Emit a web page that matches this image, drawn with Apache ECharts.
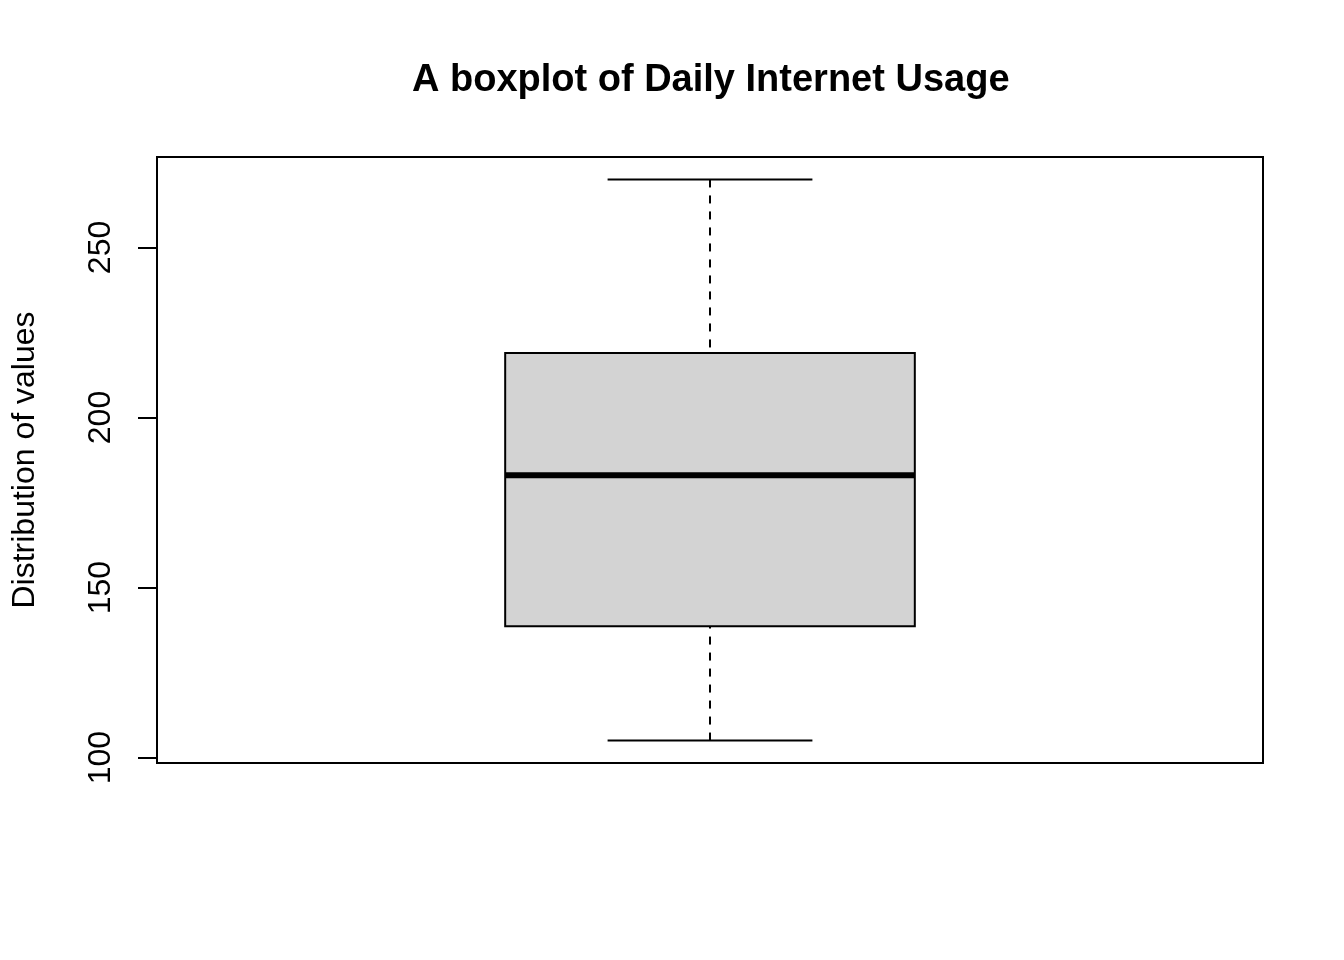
<!DOCTYPE html>
<html>
<head>
<meta charset="utf-8">
<script src="https://cdn.jsdelivr.net/npm/echarts@6/dist/echarts.min.js"></script>
<style>
html,body{margin:0;padding:0;background:#fff;}
#chart{width:1344px;height:960px;}
</style>
</head>
<body>
<div id="chart"></div>
<script>
// Data
const categories = ['Daily Internet Usage'];
const positions = [1];
const whiskerLow = [105];
const quartile1 = [138.6];
const medians = [183];
const quartile3 = [219];
const whiskerHigh = [270];
const yTickValues = [100, 150, 200, 250];
const yRange = [98.4, 276.6];
const xRange = [0.46, 1.54];

const FONT = '"Liberation Sans", Arial, Helvetica, sans-serif';

const seriesData = positions.map((p, i) => [p, whiskerLow[i], quartile1[i], medians[i], quartile3[i], whiskerHigh[i]]);

const chart = echarts.init(document.getElementById('chart'));

function renderItem(params, api) {
  const x = api.value(0);
  const lo = api.value(1), q1 = api.value(2), md = api.value(3), q3 = api.value(4), hi = api.value(5);
  const halfBox = 0.2, halfCap = 0.1;
  const pLo = api.coord([x, lo]), pQ1 = api.coord([x, q1]), pQ3 = api.coord([x, q3]), pHi = api.coord([x, hi]);
  const bl = api.coord([x - halfBox, q3]), br = api.coord([x + halfBox, q1]);
  const cl = api.coord([x - halfCap, lo])[0], cr = api.coord([x + halfCap, lo])[0];
  const pMd = api.coord([x, md]);
  const black = '#000';
  return {
    type: 'group',
    children: [
      { type: 'line', shape: { x1: pHi[0], y1: pHi[1], x2: pQ3[0], y2: pQ3[1] },
        style: { stroke: black, lineWidth: 2, lineDash: [8, 8] } },
      { type: 'line', shape: { x1: pLo[0], y1: pLo[1], x2: pQ1[0], y2: pQ1[1] },
        style: { stroke: black, lineWidth: 2, lineDash: [8, 8] } },
      { type: 'line', shape: { x1: cl, y1: pHi[1], x2: cr, y2: pHi[1] },
        style: { stroke: black, lineWidth: 2 } },
      { type: 'line', shape: { x1: cl, y1: pLo[1], x2: cr, y2: pLo[1] },
        style: { stroke: black, lineWidth: 2 } },
      { type: 'rect', shape: { x: bl[0], y: bl[1], width: br[0] - bl[0], height: br[1] - bl[1] },
        style: { fill: '#d3d3d3', stroke: black, lineWidth: 2 } },
      { type: 'line', shape: { x1: bl[0], y1: pMd[1], x2: br[0], y2: pMd[1] },
        style: { stroke: black, lineWidth: 6 } }
    ]
  };
}

chart.setOption({
  animation: false,
  backgroundColor: '#fff',
  title: {
    text: 'A boxplot of Daily Internet Usage',
    left: 412,
    top: 62,
    padding: 0,
    textStyle: { fontFamily: FONT, fontSize: 38, fontWeight: 'bold', color: '#000' }
  },
  grid: {
    left: 157, top: 157, width: 1106, height: 606,
    show: true, borderColor: '#000', borderWidth: 2, backgroundColor: 'transparent'
  },
  xAxis: {
    type: 'value', min: xRange[0], max: xRange[1],
    axisLine: { show: false }, axisTick: { show: false },
    axisLabel: { show: false }, splitLine: { show: false }
  },
  yAxis: {
    type: 'value', min: yRange[0], max: yRange[1],
    name: 'Distribution of values',
    nameLocation: 'middle',
    nameGap: 116,
    nameTextStyle: { fontFamily: FONT, fontSize: 32, color: '#000' },
    axisLine: { show: false },
    axisTick: { show: true, customValues: yTickValues, length: 19, lineStyle: { color: '#000', width: 2 } },
    axisLabel: { show: true, customValues: yTickValues, rotate: 90, margin: 40,
      fontFamily: FONT, fontSize: 32, color: '#000' },
    splitLine: { show: false }
  },
  series: [{
    type: 'custom',
    name: categories[0],
    renderItem: renderItem,
    encode: { x: 0, y: [1, 2, 3, 4, 5] },
    data: seriesData,
    clip: false
  }]
});
</script>
</body>
</html>
